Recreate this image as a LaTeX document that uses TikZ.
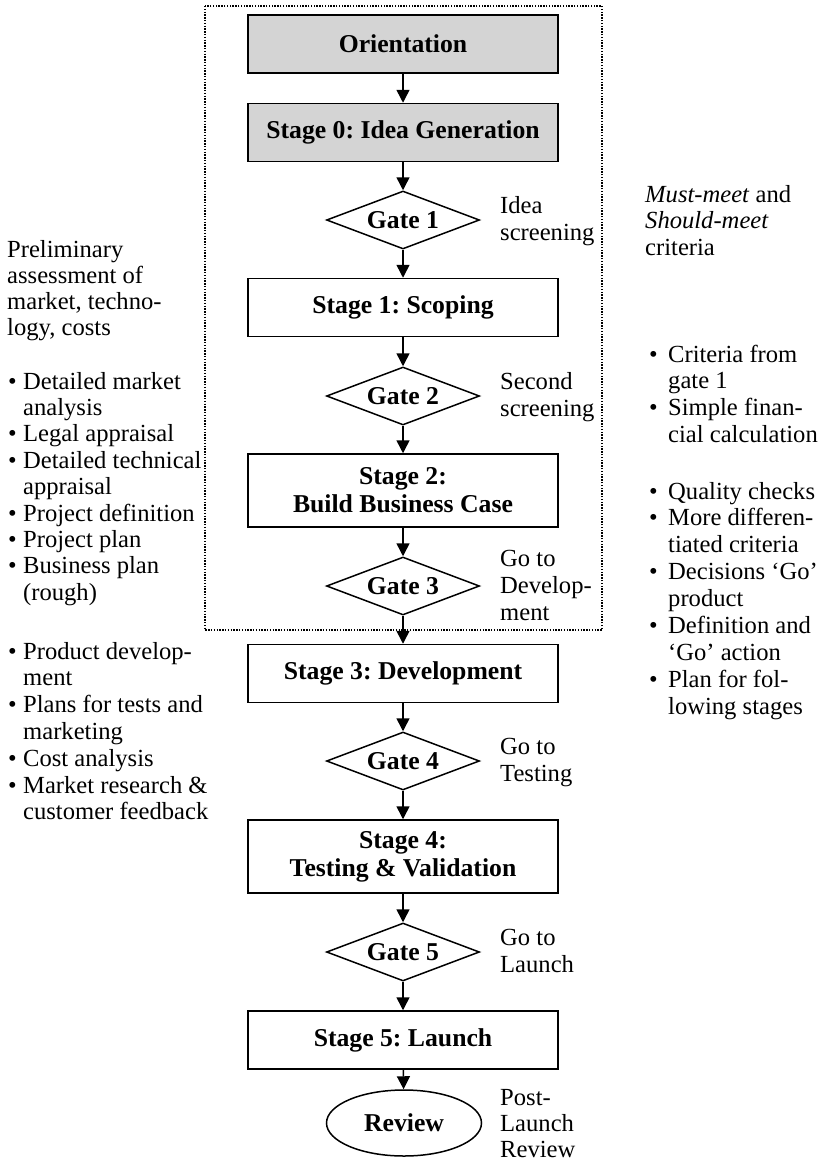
\documentclass[tikz,border=0pt]{standalone}
\usepackage{fontspec}
\setmainfont{Liberation Serif}
\usetikzlibrary{shapes.geometric,arrows.meta}

\newcommand\stagefont{\fontsize{25.7}{29}\selectfont\bfseries}
\newcommand\notefont{\fontsize{24.6}{26.5}\selectfont}
\frenchspacing

\begin{document}
\begin{tikzpicture}[x=1pt,y=-1pt,
  outline/.style={draw,line width=1.5pt,inner sep=0pt,font=\stagefont,align=center},
  stagebox/.style={outline,rectangle,minimum width=310pt,minimum height=58pt},
  tallbox/.style={stagebox,minimum height=73pt},
  shaded/.style={fill=black!17},
  gatebox/.style={outline,diamond,shape aspect=2.64,minimum width=153pt,minimum height=58pt},
  reviewbox/.style={outline,ellipse,minimum width=155pt,minimum height=66pt},
  flow/.style={line width=1.5pt,-{Triangle[length=13pt,width=13pt]}},
  note/.style={font=\notefont,inner sep=0pt,anchor=base west},
  frame/.style={line width=1.5pt,dash pattern=on 1.4pt off 1.4pt},
]
\useasboundingbox (0,0) rectangle (819,1164);

% dotted frame round the early phases
\draw[frame] (205,6) rectangle (602,630);

% main flow
\node[stagebox,shaded] (orient) at (403,44) {Orientation};
\node[stagebox,shaded] (s0) at (403,132.5) {Stage 0: Idea Generation};
\node[gatebox] (g1) at (403,220) {Gate 1};
\node[stagebox] (s1) at (403,307.5) {Stage 1: Scoping};
\node[gatebox] (g2) at (403,396) {Gate 2};
\node[tallbox] (s2) at (403,490.5) {Stage 2:\\[-1pt]Build Business Case};
\node[gatebox] (g3) at (403,586) {Gate 3};
\node[stagebox] (s3) at (403,673.5) {Stage 3: Development};
\node[gatebox] (g4) at (403,761) {Gate 4};
\node[tallbox] (s4) at (403,856.5) {Stage 4:\\[-1pt]Testing \& Validation};
\node[gatebox] (g5) at (403,952) {Gate 5};
\node[stagebox] (s5) at (403,1040) {Stage 5: Launch};
\node[reviewbox] (rev) at (404,1123) {Review};

\foreach \a/\b in {orient/s0,s0/g1,g1/s1,s1/g2,g2/s2,s2/g3,g3/s3,s3/g4,g4/s4,s4/g5,g5/s5,s5/rev}
  \draw[flow] (\a) -- (\b);

% gate labels
\node[note] (g1a) at (500,213) {Idea};
\node[note] (g1b) at (500,240) {screening};
\node[note] (g2a) at (500,389) {Second};
\node[note] (g2b) at (500,416) {screening};
\node[note] (g3a) at (500,566) {Go to};
\node[note] (g3b) at (500,593) {Develop-};
\node[note] (g3c) at (500,620) {ment};
\node[note] (g4a) at (500,754) {Go to};
\node[note] (g4b) at (500,781) {Testing};
\node[note] (g5a) at (500,945) {Go to};
\node[note] (g5b) at (500,972) {Launch};
\node[note] (rva) at (500,1105) {Post-};
\node[note] (rvb) at (500,1131) {Launch};
\node[note] (rvc) at (500,1157) {Review};

% left notes
\node[note] (pa) at (7,257.5) {Preliminary};
\node[note] (pb) at (7,283.5) {assessment of};
\node[note] (pc) at (7,309.5) {market, techno-};
\node[note] (pd) at (7,335.5) {logy, costs};

\foreach \b/\t [count=\i from 0] in {1/Detailed market,0/analysis,1/Legal appraisal,
    1/Detailed technical,0/appraisal,1/Project definition,1/Project plan,
    1/Business plan,0/(rough)}
  \node[note] (la-\i) at (8,{389+26.4*\i})
    {\ifnum\b=1 \makebox[15pt][l]{\textbullet}\else\hspace*{15pt}\fi\t};

\foreach \b/\t [count=\i from 0] in {1/Product develop-,0/ment,1/Plans for tests and,
    0/marketing,1/Cost analysis,1/Market research \&,0/customer feedback}
  \node[note] (lb-\i) at (8,{659+26.8*\i})
    {\ifnum\b=1 \makebox[15pt][l]{\textbullet}\else\hspace*{15pt}\fi\t};

% right notes
\node[note] (ma) at (645,202) {\textit{Must-meet} and};
\node[note] (mb) at (645,228.5) {\textit{Should-meet}};
\node[note] (mc) at (645,255) {criteria};

\foreach \b/\t [count=\i from 0] in {1/Criteria from,0/gate 1,1/Simple finan-,0/cial calculation}
  \node[note] (ra-\i) at (649,{362+26.7*\i})
    {\ifnum\b=1 \makebox[19pt][l]{\textbullet}\else\hspace*{19pt}\fi\t};

\foreach \b/\t [count=\i from 0] in {1/Quality checks,1/More differen-,0/tiated criteria,
    1/Decisions `Go',0/product,1/Definition and,0/`Go' action,1/Plan for fol-,0/lowing stages}
  \node[note] (rb-\i) at (649,{499+26.9*\i})
    {\ifnum\b=1 \makebox[19pt][l]{\textbullet}\else\hspace*{19pt}\fi\t};
\end{tikzpicture}
\end{document}
